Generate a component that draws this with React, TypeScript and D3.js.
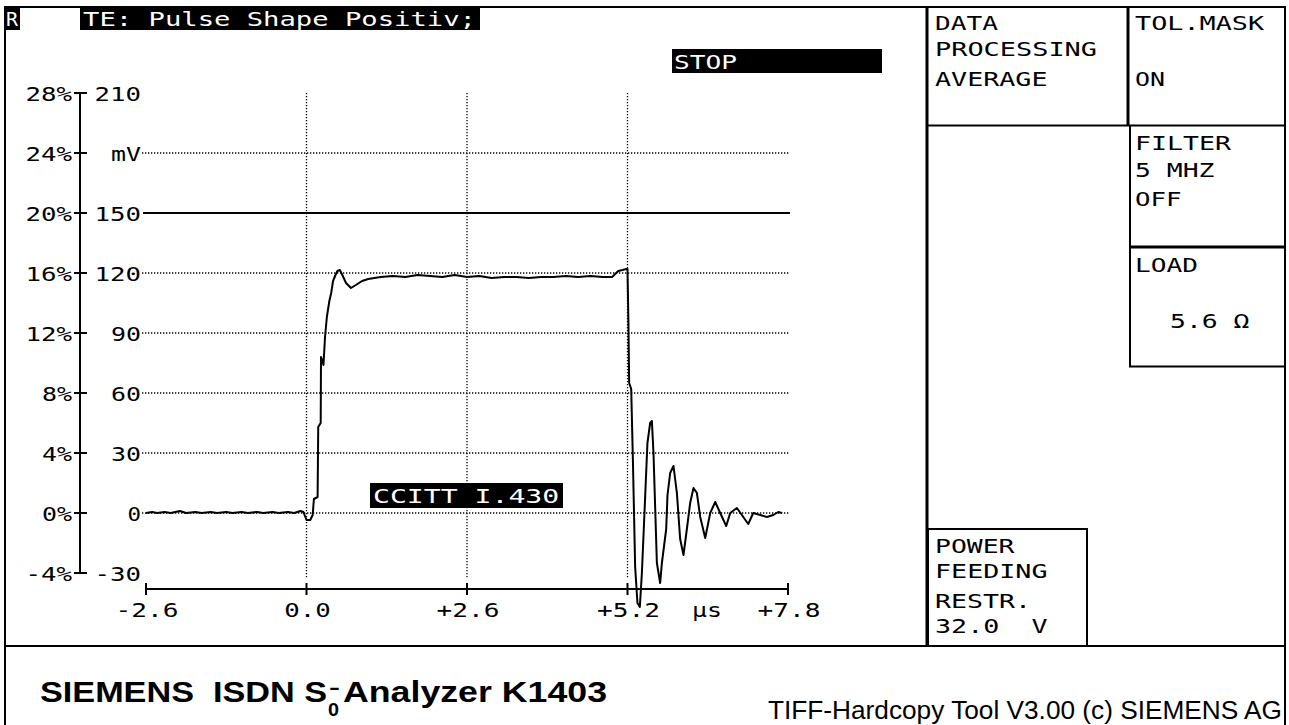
import React from 'react';
import * as d3 from 'd3';

// ---------- data ----------
const MV_TICKS = [210, 180, 150, 120, 90, 60, 30, 0, -30];
const MV_LABELS = ['210', 'mV', '150', '120', '90', '60', '30', '0', '-30'];
const PCT_LABELS = ['28%', '24%', '20%', '16%', '12%', '8%', '4%', '0%', '-4%'];
const DOTTED_MV = [180, 120, 90, 60, 30, 0];
const SOLID_MV = [150];
const X_TICKS = [-2.6, 0, 2.6, 5.2, 7.8];
const X_LABELS = ['-2.6', '0.0', '+2.6', '+5.2', '+7.8'];
const GRID_T = [0, 2.6, 5.2];

const TIME_US = [
  -2.6, -2.5, -2.42, -2.3, -2.2, -2.05, -1.95, -1.8, -1.7, -1.55, -1.45, -1.3, -1.2, -1.05, -0.95, -0.8, -0.7, -0.55, -0.45, -0.3, -0.2, -0.1, -0.05,
  0.0, 0.06, 0.1, 0.12, 0.18, 0.19, 0.23, 0.235, 0.26, 0.275, 0.3, 0.33, 0.37, 0.4, 0.43, 0.47, 0.5, 0.54, 0.58, 0.64, 0.72, 0.8, 0.9, 1.0,
  1.2, 1.4, 1.6, 1.8, 2.0, 2.2, 2.4, 2.6, 2.8, 3.0, 3.2, 3.4, 3.6, 3.8, 4.0, 4.2, 4.4, 4.6, 4.8, 4.95, 5.0, 5.05, 5.12, 5.18, 5.2,
  5.215, 5.227, 5.26, 5.287, 5.324, 5.361, 5.4, 5.433, 5.486, 5.523, 5.567, 5.595, 5.621, 5.676, 5.729, 5.757, 5.827, 5.848, 5.891, 5.945,
  6.0, 6.053, 6.107, 6.162, 6.215, 6.269, 6.324, 6.378, 6.459, 6.54, 6.621, 6.702, 6.799, 6.864, 6.972, 7.053, 7.156, 7.237, 7.35, 7.459,
  7.561, 7.642, 7.702,
];
const VOLT_MV = [
  0, 0.5, 0, 0.5, 0, 1, 0, 0.5, 0, 0.5, 0, 0.5, 0, 0.5, 0, 0.5, 0, 0.5, 0, 0.5, 0, 1, 0.5,
  -3.5, -3.5, -1, 7, 8, 43, 45, 78, 76, 74, 88, 98, 106, 110, 116, 119, 121, 121.5, 119, 115, 112.5, 114, 116, 117,
  118, 118.5, 118, 119, 118.5, 118, 119, 118, 118.5, 117.5, 118, 118, 117.5, 118, 118, 118.5, 118, 118.5, 118, 118, 119.5, 121, 121.5, 122, 122,
  95, 65, 62, 27, -27, -45, -47, -30, 8, 35, 45, 46, 30, -25, -35, -25, -8, 9, 20, 23.5,
  10, -13, -21, -8, 5, 12.5, 10, -2, -12.5, 0, 5.5, 0, -6.5, 0, 2.5, -1, -5.5, 0, -1, -2,
  -1, 0.5, 0,
];

// ---------- style ----------
const MONO = "'DejaVu Sans Mono', monospace";
const SANS = "'Liberation Sans', Arial, sans-serif";
const CW = 16.5;

function Mono({ x, y, text, anchor = 'start', fill = '#000', cw = CW }: any) {
  return (
    <text
      x={x}
      y={y}
      fontFamily={MONO}
      fontSize={20}
      fill={fill}
      textAnchor={anchor}
      textLength={text.length * cw - 3}
      lengthAdjust="spacingAndGlyphs"
      style={{ whiteSpace: 'pre' }}
    >
      {text}
    </text>
  );
}

export default function App() {
  const W = 1289;
  const H = 725;
  const x = d3.scaleLinear().domain([-2.6, 7.8]).range([146, 788]);
  const y = d3.scaleLinear().domain([-30, 210]).range([573, 93]);
  const pts: [number, number][] = TIME_US.map((t, i) => [t, VOLT_MV[i]]);
  const line = d3
    .line<[number, number]>()
    .x((d) => x(d[0]))
    .y((d) => y(d[1]));
  const axisY = 589;
  const yAxisX = 80;

  return (
    <svg
      width={W}
      height={H}
      style={{ position: 'absolute', left: 0, top: 0, background: '#fff' }}
    >
      <rect x={0} y={0} width={W} height={H} fill="#fff" />

      {/* frame */}
      <g stroke="#000" fill="none">
        <line x1={5} y1={7} x2={1285} y2={7} strokeWidth={2} />
        <line x1={5} y1={6} x2={5} y2={725} strokeWidth={2} />
        <line x1={1285} y1={6} x2={1285} y2={725} strokeWidth={2} />
        <line x1={5} y1={646} x2={1285} y2={646} strokeWidth={2} />
        <line x1={927} y1={7} x2={927} y2={646} strokeWidth={3} />
        <line x1={1128} y1={7} x2={1128} y2={125} strokeWidth={3} />
        <line x1={927} y1={125.5} x2={1285} y2={125.5} strokeWidth={2} />
        <line x1={1130} y1={125} x2={1130} y2={367} strokeWidth={2} />
        <line x1={1129} y1={247} x2={1285} y2={247} strokeWidth={3} />
        <line x1={1129} y1={366.5} x2={1285} y2={366.5} strokeWidth={2} />
        <rect x={928} y={529} width={159} height={117} strokeWidth={2} />
      </g>

      {/* header */}
      <rect x={5} y={7} width={15} height={23} fill="#000" />
      <Mono x={6} y={26} text="R" fill="#fff" cw={15} />
      <rect x={80} y={7} width={400} height={23} fill="#000" />
      <Mono x={83} y={26} text="TE: Pulse Shape Positiv;" fill="#fff" />

      {/* STOP */}
      <rect x={672} y={49} width={210} height={24} fill="#000" />
      <Mono x={674} y={69} text="STOP" fill="#fff" />

      {/* grid */}
      <g stroke="#000" strokeWidth={1.3} strokeDasharray="1.3 1.7">
        {DOTTED_MV.map((v) => (
          <line key={'h' + v} x1={142} x2={790} y1={y(v)} y2={y(v)} />
        ))}
        {GRID_T.map((t) => (
          <line key={'v' + t} x1={x(t)} x2={x(t)} y1={93} y2={578} />
        ))}
      </g>
      {SOLID_MV.map((v) => (
        <line key={'s' + v} x1={143} x2={790} y1={y(v)} y2={y(v)} stroke="#000" strokeWidth={2} />
      ))}

      {/* y axis */}
      <line x1={yAxisX} x2={yAxisX} y1={y(210)} y2={y(-30)} stroke="#000" strokeWidth={2} />
      {MV_TICKS.map((v, i) => (
        <g key={'yt' + v}>
          <line x1={74} x2={87} y1={y(v)} y2={y(v)} stroke="#000" strokeWidth={2} />
          <Mono x={72} y={y(v) + 7.5} text={PCT_LABELS[i]} anchor="end" />
          <Mono x={141} y={y(v) + 7.5} text={MV_LABELS[i]} anchor="end" />
        </g>
      ))}

      {/* x axis */}
      <line x1={x(-2.6)} x2={x(7.8)} y1={axisY} y2={axisY} stroke="#000" strokeWidth={2} />
      {X_TICKS.map((t, i) => (
        <g key={'xt' + t}>
          <line x1={x(t)} x2={x(t)} y1={axisY - 6} y2={axisY + 6} stroke="#000" strokeWidth={2} />
          <Mono x={x(t) + 1} y={617} text={X_LABELS[i]} anchor="middle" />
        </g>
      ))}
      <Mono x={707} y={617} text={'\u00b5s'} anchor="middle" />

      {/* CCITT label */}
      <rect x={370} y={483} width={193} height={25} fill="#000" />
      <Mono x={373} y={503} text="CCITT I.430" fill="#fff" cw={17.2} />

      {/* waveform */}
      <path d={line(pts) || ''} fill="none" stroke="#000" strokeWidth={2} strokeLinejoin="round" />

      {/* right panels */}
      <Mono x={935} y={30} text="DATA" />
      <Mono x={935} y={56} text="PROCESSING" />
      <Mono x={935} y={86} text="AVERAGE" />
      <Mono x={1135} y={30} text="TOL.MASK" />
      <Mono x={1135} y={86} text="ON" />
      <Mono x={1135} y={150} text="FILTER" />
      <Mono x={1135} y={177} text="5 MHZ" />
      <Mono x={1135} y={206} text="OFF" />
      <Mono x={1135} y={272} text="LOAD" />
      <Mono x={1170} y={328} text={'5.6 \u03a9'} />
      <Mono x={935} y={553} text="POWER" />
      <Mono x={935} y={578} text="FEEDING" />
      <Mono x={935} y={608} text="RESTR." />
      <Mono x={935} y={633} text="32.0  V" />

      {/* footer */}
      <g fontFamily={SANS} fontWeight="bold" fill="#000">
        <text x={40} y={702} fontSize={30} textLength={287} lengthAdjust="spacingAndGlyphs" style={{ whiteSpace: 'pre' }}>
          {'SIEMENS  ISDN S'}
        </text>
        <text x={328} y={716} fontSize={18} textLength={11} lengthAdjust="spacingAndGlyphs">0</text>
        <text x={329} y={694} fontSize={18} textLength={11} lengthAdjust="spacingAndGlyphs">-</text>
        <text x={343} y={702} fontSize={30} textLength={264} lengthAdjust="spacingAndGlyphs" style={{ whiteSpace: 'pre' }}>
          {'Analyzer K1403'}
        </text>
      </g>
      <text
        x={768}
        y={719}
        fontFamily={SANS}
        fontSize={25}
        fill="#000"
        textLength={514}
        lengthAdjust="spacingAndGlyphs"
      >
        TIFF-Hardcopy Tool V3.00 (c) SIEMENS AG
      </text>
    </svg>
  );
}
